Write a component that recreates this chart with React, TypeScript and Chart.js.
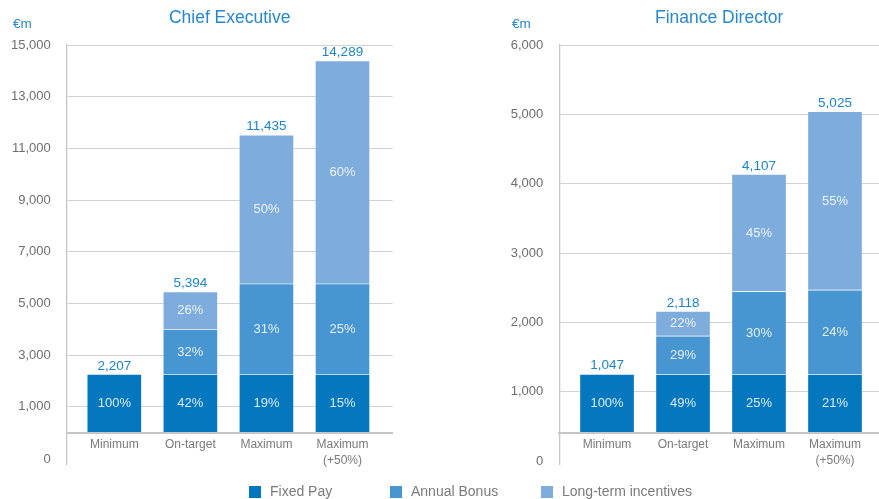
import React, { useEffect, useRef } from "react";
import { Chart, registerables } from "chart.js";

Chart.register(...registerables);

// ---------- data ----------
const CATEGORIES: string[][] = [["Minimum"], ["On-target"], ["Maximum"], ["Maximum", "(+50%)"]];
const SERIES_NAMES = ["Fixed Pay", "Annual Bonus", "Long-term incentives"];

// Chief Executive (€m)
const CE_FIXED = [2261, 2261, 2261, 2261];
const CE_BONUS = [0, 1749, 3502, 3502];
const CE_LTI = [0, 1444, 5756, 8632];
const CE_TOTAL_LABELS = ["2,207", "5,394", "11,435", "14,289"];
const CE_FIXED_PCT = ["100%", "42%", "19%", "15%"];
const CE_BONUS_PCT = ["", "32%", "31%", "25%"];
const CE_LTI_PCT = ["", "26%", "50%", "60%"];
const CE_Y_TICK_VALUES = [-1054, 1000, 3000, 5000, 7000, 9000, 11000, 13000, 15000];
const CE_Y_TICK_LABELS = ["0", "1,000", "3,000", "5,000", "7,000", "9,000", "11,000", "13,000", "15,000"];

// Finance Director
const FD_FIXED = [1256, 1256, 1256, 1256];
const FD_BONUS = [0, 552, 1192, 1215];
const FD_LTI = [0, 356, 1691, 2572];
const FD_TOTAL_LABELS = ["1,047", "2,118", "4,107", "5,025"];
const FD_FIXED_PCT = ["100%", "49%", "25%", "21%"];
const FD_BONUS_PCT = ["", "29%", "30%", "24%"];
const FD_LTI_PCT = ["", "22%", "45%", "55%"];
const FD_Y_TICK_VALUES = [0, 1000, 2000, 3000, 4000, 5000, 6000];
const FD_Y_TICK_LABELS = ["0", "1,000", "2,000", "3,000", "4,000", "5,000", "6,000"];

// ---------- style ----------
const FONT = "'Liberation Sans', Arial, Helvetica, sans-serif";
const COLORS = ["#0477bf", "#4795d1", "#7eacdc"];
const TITLE_COLOR = "#2589cf";
const TOTAL_COLOR = "#1b85cc";
const PCT_COLOR = "rgba(255,255,255,0.86)";
const TICK_COLOR = "#6e6e6e";
const XLABEL_COLOR = "#7a7a7a";
const GRID_COLOR = "#d2d2d2";
const AXIS_COLOR = "#c6c6c6";

Chart.defaults.font.family = FONT;

interface PanelSpec {
  title: string;
  fixed: number[];
  bonus: number[];
  lti: number[];
  totals: string[];
  pcts: string[][];
  yTickValues: number[];
  yTickLabels: string[];
  yMin: number;
  yMax: number;
  xMin: number;
  xMax: number;
  axisValue: number; // value of the category axis line
  fixedBase?: number;
  padLeft: number;
  padRight: number;
  yWidth: number;
}

const labelsPlugin = (spec: PanelSpec) => ({
  id: "valueLabels",
  afterDatasetsDraw(chart: any) {
    const ctx = chart.ctx;
    ctx.save();
    ctx.textAlign = "center";
    ctx.textBaseline = "middle";
    ctx.font = `13px ${FONT}`;
    ctx.fillStyle = PCT_COLOR;
    chart.data.datasets.forEach((_: any, di: number) => {
      const meta = chart.getDatasetMeta(di);
      meta.data.forEach((el: any, i: number) => {
        const label = spec.pcts[di][i];
        if (!label) return;
        const { x, y, base } = el.getProps(["x", "y", "base"], true);
        ctx.fillText(label, x, (y + base) / 2 + 0.5);
      });
    });
    const last = chart.getDatasetMeta(chart.data.datasets.length - 1);
    ctx.font = `13.5px ${FONT}`;
    ctx.fillStyle = TOTAL_COLOR;
    ctx.textBaseline = "alphabetic";
    last.data.forEach((el: any, i: number) => {
      const { x, y } = el.getProps(["x", "y"], true);
      ctx.fillText(spec.totals[i], x, y - 4.5);
    });
    const ys = chart.scales.y;
    ctx.font = `13.5px ${FONT}`;
    ctx.textAlign = "left";
    ctx.textBaseline = "middle";
    ctx.fillStyle = TITLE_COLOR;
    ctx.fillText("€m", ys.left + 1, 24);
    ctx.restore();
  },
});

function buildConfig(spec: PanelSpec): any {
  const pts = (arr: number[]) => arr.map((v, i) => ({ x: i, y: v }));
  const seriesData = [spec.fixed, spec.bonus, spec.lti];
  return {
    type: "bar",
    data: {
      datasets: seriesData.map((d, i) => {
        const ds: any = {
          label: SERIES_NAMES[i],
          data: pts(d),
          backgroundColor: COLORS[i],
          borderColor: "rgba(255,255,255,0.28)",
          borderWidth: 1,
          barThickness: 55,
        };
        if (i === 0 && spec.fixedBase !== undefined) ds.base = spec.fixedBase;
        return ds;
      }),
    },
    options: {
      responsive: false,
      animation: false,
      layout: { padding: { left: spec.padLeft, right: spec.padRight, top: 0, bottom: 35 } },
      plugins: {
        legend: { display: false },
        tooltip: { enabled: false },
        title: {
          display: true,
          text: spec.title,
          fullSize: false,
          color: TITLE_COLOR,
          font: { size: 17.5, family: FONT, weight: "normal", lineHeight: 1.2 },
          padding: { top: 7.5, bottom: 16.5 },
        },
      },
      scales: {
        x: {
          type: "linear",
          stacked: true,
          offset: false,
          min: spec.xMin,
          max: spec.xMax,
          bounds: "data",
          position: { y: spec.axisValue },
          grid: { display: false, drawTicks: false, offset: false },
          border: { display: true, color: AXIS_COLOR, width: 2, z: 1 },
          afterBuildTicks: (s: any) => {
            s.ticks = CATEGORIES.map((_, i) => ({ value: i }));
          },
          ticks: {
            autoSkip: false,
            maxRotation: 0,
            minRotation: 0,
            padding: 4.5,
            color: XLABEL_COLOR,
            font: { size: 12, family: FONT, lineHeight: 1.3 },
            callback: (v: number) => CATEGORIES[Math.round(v)],
          },
        },
        y: {
          type: "linear",
          stacked: true,
          min: spec.yMin,
          max: spec.yMax,
          bounds: "data",
          afterBuildTicks: (s: any) => {
            s.ticks = spec.yTickValues.map((v) => ({ value: v }));
          },
          afterFit: (s: any) => {
            s.width = spec.yWidth;
          },
          grid: {
            drawTicks: false,
            lineWidth: 1,
            color: (c: any) => (c.index === 0 ? "rgba(0,0,0,0)" : GRID_COLOR),
          },
          border: { display: true, color: AXIS_COLOR, width: 1.3 },
          ticks: {
            padding: 16,
            color: TICK_COLOR,
            font: { size: 13, family: FONT },
            callback: (_v: number, i: number) => spec.yTickLabels[i],
          },
        },
      },
    },
    plugins: [labelsPlugin(spec)],
  };
}

const CE_SPEC: PanelSpec = {
  title: "Chief Executive",
  fixed: CE_FIXED,
  bonus: CE_BONUS,
  lti: CE_LTI,
  totals: CE_TOTAL_LABELS,
  pcts: [CE_FIXED_PCT, CE_BONUS_PCT, CE_LTI_PCT],
  yTickValues: CE_Y_TICK_VALUES,
  yTickLabels: CE_Y_TICK_LABELS,
  yMin: -1215,
  yMax: 15000,
  xMin: -0.626,
  xMax: 3.66,
  axisValue: 0,
  padLeft: 12,
  padRight: 47.3,
  yWidth: 54.7,
};

const FD_SPEC: PanelSpec = {
  title: "Finance Director",
  fixed: FD_FIXED,
  bonus: FD_BONUS,
  lti: FD_LTI,
  totals: FD_TOTAL_LABELS,
  pcts: [FD_FIXED_PCT, FD_BONUS_PCT, FD_LTI_PCT],
  yTickValues: FD_Y_TICK_VALUES,
  yTickLabels: FD_Y_TICK_LABELS,
  yMin: -42,
  yMax: 6000,
  xMin: -0.628,
  xMax: 3.579,
  axisValue: 410,
  fixedBase: 410,
  padLeft: 71,
  padRight: 0,
  yWidth: 48.3,
};

function Panel({ spec, left, width }: { spec: PanelSpec; left: number; width: number }) {
  const ref = useRef<HTMLCanvasElement | null>(null);
  useEffect(() => {
    if (!ref.current) return;
    const chart = new Chart(ref.current, buildConfig(spec));
    return () => chart.destroy();
  }, [spec]);
  return (
    <canvas
      ref={ref}
      width={width}
      height={499}
      style={{ position: "absolute", left, top: 0, width, height: 499, display: "block" }}
    />
  );
}

const LEGEND_LEFT = [249, 390, 541];

export default function App() {
  return (
    <div
      style={{
        position: "absolute",
        left: 0,
        top: 0,
        width: 879,
        height: 499,
        background: "#ffffff",
        fontFamily: FONT,
        overflow: "hidden",
      }}
    >
      <Panel spec={CE_SPEC} left={0} width={440} />
      <Panel spec={FD_SPEC} left={440} width={439} />
      {SERIES_NAMES.map((name, i) => (
        <div
          key={name}
          style={{ position: "absolute", left: LEGEND_LEFT[i], top: 483, height: 16, display: "flex", alignItems: "center" }}
        >
          <span style={{ display: "inline-block", width: 12, height: 12, background: COLORS[i], marginTop: 1 }} />
          <span style={{ marginLeft: 9, fontSize: 14, color: XLABEL_COLOR, lineHeight: "16px", whiteSpace: "nowrap" }}>
            {name}
          </span>
        </div>
      ))}
    </div>
  );
}
